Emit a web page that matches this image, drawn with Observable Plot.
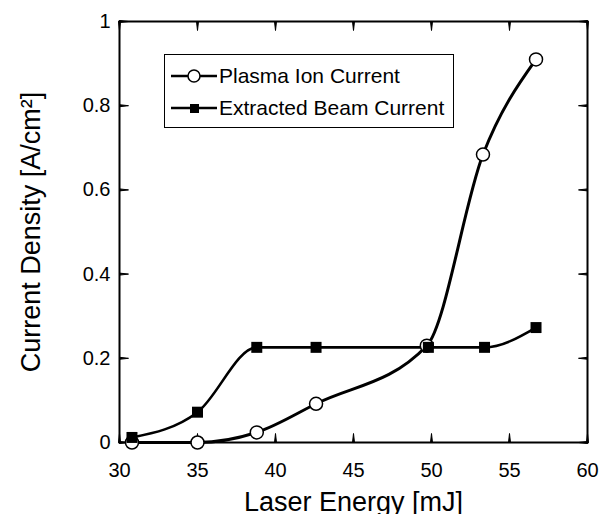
<!DOCTYPE html>
<html><head><meta charset="utf-8">
<script src="https://cdn.jsdelivr.net/npm/d3@7"></script>
<script src="https://cdn.jsdelivr.net/npm/@observablehq/plot@0.6"></script>
<style>
body{margin:0;background:#fff;}
#wrap{position:relative;width:600px;height:514px;font-family:"Liberation Sans",Arial,sans-serif;}
.legend{position:absolute;left:164px;top:54px;width:288px;height:72px;border:1.5px solid #000;background:#fff;}
.row{position:absolute;left:0;height:26px;display:flex;align-items:center;font-size:21px;color:#000;white-space:nowrap;}
.row svg{display:block;margin-left:6px;margin-right:2px;}
</style></head><body><div id="wrap"></div>
<script>
const energyPlasma = [30.8, 35.0, 38.8, 42.6, 49.7, 53.3, 56.7];
const plasmaCurrent = [0.0, 0.0, 0.024, 0.092, 0.23, 0.684, 0.91];
const energyBeam = [30.8, 35.0, 38.8, 42.6, 49.8, 53.4, 56.7];
const beamCurrent = [0.012, 0.072, 0.226, 0.226, 0.226, 0.226, 0.273];
const xTicks = [30, 35, 40, 45, 50, 55, 60];
const yTicks = [0, 0.2, 0.4, 0.6, 0.8, 1];
const seriesNames = ["Plasma Ion Current", "Extracted Beam Current"];
const xLabel = "Laser Energy [mJ]";
const yLabel = "Current Density [A/cm²]";

const plasmaData = energyPlasma.map((x, i) => ({x, y: plasmaCurrent[i]}));
const beamData = energyBeam.map((x, i) => ({x, y: beamCurrent[i]}));
const font = '"Liberation Sans", Arial, sans-serif';
const W = 600, H = 514, mL = 119, mR = 13, mT = 21, mB = 72;
const tick = 9;
const tickOpts = {anchor: "start", length: tick, shape: "spike", r: 1, fill: "#000", stroke: "#000", strokeWidth: 1};

const chart = Plot.plot({
  width: W, height: H,
  marginLeft: mL, marginRight: mR, marginTop: mT, marginBottom: mB,
  style: {fontFamily: font, fontSize: "20px", color: "#000", background: "#fff", overflow: "visible"},
  x: {domain: [30, 60]},
  y: {domain: [0, 1]},
  marks: [
    Plot.axisX(xTicks, {anchor: "bottom", tickSize: 0, tickPadding: 20, label: null, tickFormat: d => String(d)}),
    Plot.axisY(yTicks, {anchor: "left", tickSize: 0, tickPadding: 9, label: null, tickFormat: d => String(d)}),
    Plot.frame({strokeWidth: 2}),
    // inward ticks on all four sides (thin spikes anchored at the frame edges)
    Plot.vector(xTicks, {x: d => d, frameAnchor: "bottom", rotate: 0, ...tickOpts}),
    Plot.vector(xTicks, {x: d => d, frameAnchor: "top", rotate: 180, ...tickOpts}),
    Plot.vector(yTicks, {y: d => d, frameAnchor: "left", rotate: 90, ...tickOpts}),
    Plot.vector(yTicks, {y: d => d, frameAnchor: "right", rotate: -90, ...tickOpts}),
    Plot.line(beamData, {x: "x", y: "y", curve: "monotone-x", strokeWidth: 2.6}),
    Plot.line(plasmaData, {x: "x", y: "y", curve: "monotone-x", strokeWidth: 3}),
    Plot.dot(plasmaData, {x: "x", y: "y", r: 6.5, fill: "white", stroke: "black", strokeWidth: 1.5}),
    Plot.dot(beamData, {x: "x", y: "y", symbol: "square", r: 6.2, fill: "black", stroke: "none"}),
    Plot.text([xLabel], {text: d => d, frameAnchor: "bottom", textAnchor: "middle", dy: 68, lineAnchor: "bottom", fontSize: 27}),
    Plot.text([yLabel], {text: d => d, frameAnchor: "left", textAnchor: "middle", rotate: -90, dx: -80, lineAnchor: "bottom", fontSize: 27})
  ]
});
const wrap = document.getElementById("wrap");
wrap.appendChild(chart);

// legend overlay
const legend = document.createElement("div");
legend.className = "legend";
const rowTops = [8, 40];
seriesNames.forEach((name, i) => {
  const row = document.createElement("div");
  row.className = "row";
  row.style.top = rowTops[i] + "px";
  const sym = i === 0
    ? '<svg width="46" height="20"><line x1="0" y1="10" x2="46" y2="10" stroke="#000" stroke-width="2.5"/><circle cx="23" cy="10" r="6" fill="#fff" stroke="#000" stroke-width="1.5"/></svg>'
    : '<svg width="46" height="20"><line x1="0" y1="10" x2="46" y2="10" stroke="#000" stroke-width="2.5"/><rect x="19" y="6" width="9" height="9" fill="#000"/></svg>';
  row.innerHTML = sym + '<span>' + name + '</span>';
  legend.appendChild(row);
});
wrap.appendChild(legend);
</script></body></html>
